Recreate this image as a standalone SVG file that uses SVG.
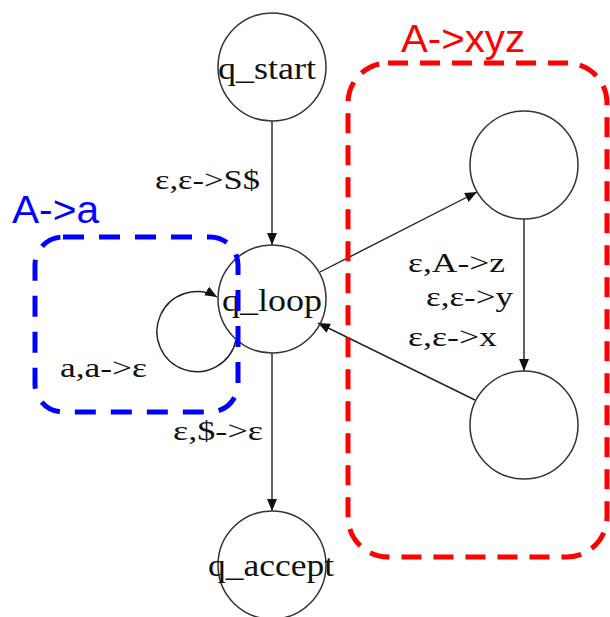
<svg xmlns="http://www.w3.org/2000/svg" width="610" height="617" viewBox="0 0 610 617">
<style>
.st{fill:#fff;stroke:#333;stroke-width:1.5}
.lbl{font-family:"Liberation Serif","Times New Roman",serif;fill:#111}
.edge{fill:none;stroke:#222;stroke-width:1.4}
.grp{font-family:"Liberation Sans",Arial,sans-serif}
</style>
<defs>
<marker id="arr" markerWidth="12" markerHeight="10" refX="12" refY="5" orient="auto" markerUnits="userSpaceOnUse">
<path d="M0,0 L12,5 L0,10 z" fill="#111"/>
</marker>
</defs>
<rect width="610" height="617" fill="#fff"/>
<g id="connectors">
<path class="edge" d="M272,120 L272,245" marker-end="url(#arr)"/>
<path class="edge" d="M272,353 L272,511" marker-end="url(#arr)"/>
<path class="edge" d="M320,272 L477,192" marker-end="url(#arr)"/>
<path class="edge" d="M524,219 L524,371" marker-end="url(#arr)"/>
<path class="edge" d="M475,400 L318,323" marker-end="url(#arr)"/>
<path class="edge" d="M236,340 A40,40 0 1 1 217,297" marker-end="url(#arr)"/>
<text class="lbl" x="155" y="189" font-size="27" textLength="105" lengthAdjust="spacingAndGlyphs">ε,ε-&gt;S$</text>
<text class="lbl" x="60" y="377" font-size="28" textLength="87" lengthAdjust="spacingAndGlyphs">a,a-&gt;ε</text>
<text class="lbl" x="173" y="440" font-size="27" textLength="90" lengthAdjust="spacingAndGlyphs">ε,$-&gt;ε</text>
<text class="lbl" x="408" y="272" font-size="27" textLength="97" lengthAdjust="spacingAndGlyphs">ε,A-&gt;z</text>
<text class="lbl" x="426" y="306" font-size="27" textLength="87" lengthAdjust="spacingAndGlyphs">ε,ε-&gt;y</text>
<text class="lbl" x="408" y="346" font-size="27" textLength="89" lengthAdjust="spacingAndGlyphs">ε,ε-&gt;x</text>
</g>
<g id="q_start">
<circle class="st" cx="272" cy="67" r="54"/>
<text class="lbl" x="218" y="79" font-size="31" textLength="98" lengthAdjust="spacingAndGlyphs">q_start</text>
</g>
<g id="q_loop">
<circle class="st" cx="272" cy="299" r="54" style="fill:none"/>
<text class="lbl" x="222" y="311" font-size="31" textLength="100" lengthAdjust="spacingAndGlyphs">q_loop</text>
</g>
<g id="q_accept">
<circle class="st" cx="272" cy="565" r="54" style="fill:none"/>
<text class="lbl" x="208" y="576" font-size="31" textLength="126" lengthAdjust="spacingAndGlyphs">q_accept</text>
</g>
<g id="q_1">
<circle class="st" cx="524" cy="165" r="54"/>
</g>
<g id="q_2">
<circle class="st" cx="524" cy="425" r="54"/>
</g>
<g id="group_a">
<rect x="35" y="237" width="203" height="175" rx="28" fill="none" stroke="#0000ff" stroke-width="5" stroke-dasharray="21,15"/>
<text class="grp" x="12" y="223" font-size="38" fill="#0000ff" textLength="87" lengthAdjust="spacingAndGlyphs">A-&gt;a</text>
</g>
<g id="group_xyz">
<rect x="348" y="63" width="259" height="494" rx="40" fill="none" stroke="#ff0000" stroke-width="5" stroke-dasharray="20,12"/>
<text class="grp" x="401" y="52" font-size="39" fill="#ff0000" textLength="124" lengthAdjust="spacingAndGlyphs">A-&gt;xyz</text>
</g>
</svg>
